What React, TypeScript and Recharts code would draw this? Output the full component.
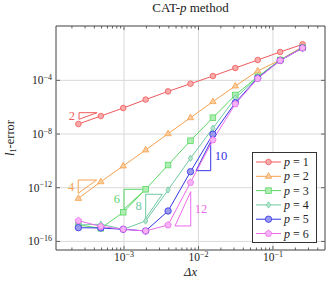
import React from 'react';
import { LineChart, Line, XAxis, YAxis, ReferenceLine, ReferenceArea, ReferenceDot, Legend } from 'recharts';

// grid spacing 1/4096 ... 1/4
const dx = [0.000244140625, 0.00048828125, 0.0009765625, 0.001953125, 0.00390625, 0.0078125, 0.015625, 0.03125, 0.0625, 0.125, 0.25];

// l1 errors
const errP1 = [5.6e-8, 2.2e-7, 8.7e-7, 3.7e-6, 1.5e-5, 5.6e-5, 2.1e-4, 8.3e-4, 3.3e-3, 1.3e-2, 4.85e-2];
const errP2 = [1.6e-13, 2.8e-12, 4.2e-11, 6.5e-10, 1.06e-8, 1.65e-7, 2.6e-6, 3.8e-5, 5.0e-4, 3.3e-3, 3.2e-2];
const errP3 = [1.67e-15, 9.5e-16, 1.48e-14, 7.6e-13, 4.9e-11, 3.2e-9, 1.65e-7, 8.1e-6, 1.87e-4, 3.3e-3, 2.7e-2];
const errP4 = [1.67e-15, 1.9e-15, 8.0e-16, 3.3e-15, 6.8e-13, 1.56e-10, 2.7e-8, 4.8e-6, 1.63e-4, 3.2e-3, 2.7e-2];
const errP5 = [1.05e-15, 1.0e-15, 8.0e-16, 6.0e-16, 1.85e-14, 1.56e-11, 9.6e-9, 2.16e-6, 1.5e-4, 3.0e-3, 2.6e-2];
const errP6 = [3.5e-15, 1.3e-15, 8.0e-16, 6.0e-16, 1.67e-15, 2.45e-12, 3.6e-9, 1.73e-6, 1.37e-4, 3.0e-3, 2.6e-2];

// slope triangles (order labels and corner coordinates)
const slopeLabels = ['2', '4', '6', '8', '10', '12'];
const triX0 = [2.49e-4, 2.43e-4, 1.0e-3, 1.956e-3, 9.27e-3, 4.84e-3];
const triX1 = [4.35e-4, 4.3e-4, 1.956e-3, 3.27e-3, 1.46e-2, 7.87e-3];
const triYHi = [3.89e-7, 3.76e-12, 7.64e-13, 3.24e-13, 2.69e-9, 5.06e-13];
const triYLo = [1.26e-7, 3.85e-13, 2.6e-14, 5.27e-15, 1.86e-11, 1.41e-15];
const triSide = ['left', 'left', 'left', 'left', 'right', 'right'];

const xTicks = [1e-3, 1e-2, 1e-1];
const xMinorTicks = [
  2e-4, 3e-4, 4e-4, 5e-4, 6e-4, 7e-4, 8e-4, 9e-4,
  2e-3, 3e-3, 4e-3, 5e-3, 6e-3, 7e-3, 8e-3, 9e-3,
  2e-2, 3e-2, 4e-2, 5e-2, 6e-2, 7e-2, 8e-2, 9e-2,
  2e-1, 3e-1, 4e-1,
];
const yTicks = [1e-16, 1e-12, 1e-8, 1e-4];
const xDomain = [1.222e-4, 0.5];
const yDomain = [2.29e-17, 1.12];

const series = [
  { key: 'p1', label: '1', color: '#f05a5c', fill: '#f8a9aa', shape: 'circleSmall' },
  { key: 'p2', label: '2', color: '#f5a14e', fill: '#fbcc9c', shape: 'triangle' },
  { key: 'p3', label: '3', color: '#5bd866', fill: '#aeeeb2', shape: 'square' },
  { key: 'p4', label: '4', color: '#6ec9a2', fill: '#b6e6d0', shape: 'diamond' },
  { key: 'p5', label: '5', color: '#3434e4', fill: '#9a9af0', shape: 'circle' },
  { key: 'p6', label: '6', color: '#ec6aec', fill: '#f6b4f6', shape: 'pentagon' },
];
const errs = [errP1, errP2, errP3, errP4, errP5, errP6];

const data = dx.map((x, i) => {
  const row: any = { x };
  series.forEach((s, k) => { row[s.key] = errs[k][i]; });
  return row;
});

const triangles = slopeLabels.map((_, i) =>
  triSide[i] === 'left'
    ? [
        { x: triX0[i], y: triYHi[i] },
        { x: triX1[i], y: triYHi[i] },
        { x: triX0[i], y: triYLo[i] },
        { x: triX0[i], y: triYHi[i] },
      ]
    : [
        { x: triX0[i], y: triYLo[i] },
        { x: triX1[i], y: triYLo[i] },
        { x: triX1[i], y: triYHi[i] },
        { x: triX0[i], y: triYLo[i] },
      ]
);

const FONT = '"Liberation Serif", "DejaVu Serif", serif';
const AXIS = '#404040';
const PLOT_TOP = 26;
const PLOT_RIGHT = 325;

const marker = (shape: string, cx: number, cy: number, stroke: string, fill: string) => {
  const common = { stroke, fill, strokeWidth: 0.8 };
  switch (shape) {
    case 'circleSmall':
      return <circle cx={cx} cy={cy} r={2.8} {...common} />;
    case 'circle':
      return <circle cx={cx} cy={cy} r={3.2} {...common} />;
    case 'triangle':
      return <polygon points={`${cx},${cy - 3.6} ${cx - 3.2},${cy + 2} ${cx + 3.2},${cy + 2}`} {...common} />;
    case 'square':
      return <rect x={cx - 2.8} y={cy - 2.8} width={5.6} height={5.6} {...common} />;
    case 'diamond':
      return <polygon points={`${cx},${cy - 3.2} ${cx + 2.2},${cy} ${cx},${cy + 3.2} ${cx - 2.2},${cy}`} {...common} />;
    default: {
      const pts = [0, 1, 2, 3, 4]
        .map((k) => {
          const a = -Math.PI / 2 + (k * 2 * Math.PI) / 5;
          return `${cx + 3.4 * Math.cos(a)},${cy + 3.4 * Math.sin(a)}`;
        })
        .join(' ');
      return <polygon points={pts} {...common} />;
    }
  }
};

const XTick = (props: any) => {
  const { x, y, payload } = props;
  const v = payload.value;
  const major = xTicks.includes(v);
  const len = major ? 4 : 2.5;
  const exp = Math.round(Math.log10(v));
  return (
    <g>
      <line x1={x} x2={x} y1={y} y2={y - len} stroke={AXIS} strokeWidth={0.8} />
      <line x1={x} x2={x} y1={PLOT_TOP} y2={PLOT_TOP + len} stroke={AXIS} strokeWidth={0.8} />
      {major && (
        <text x={x} y={y + 11} textAnchor="middle" fontFamily={FONT} fontSize={11.5} fill="#222">
          10<tspan dy={-4.5} fontSize={8}>{'\u2212' + Math.abs(exp)}</tspan>
        </text>
      )}
    </g>
  );
};

const YTick = (props: any) => {
  const { x, y, payload } = props;
  const exp = Math.round(Math.log10(payload.value));
  return (
    <g>
      <line x1={x} x2={x + 4} y1={y} y2={y} stroke={AXIS} strokeWidth={0.8} />
      <line x1={PLOT_RIGHT} x2={PLOT_RIGHT - 4} y1={y} y2={y} stroke={AXIS} strokeWidth={0.8} />
      <text x={x - 4} y={y + 4} textAnchor="end" fontFamily={FONT} fontSize={11.5} fill="#222">
        10<tspan dy={-4.5} fontSize={8}>{'\u2212' + Math.abs(exp)}</tspan>
      </text>
    </g>
  );
};

const LegendBox = () => (
  <div style={{ width: 65, height: 91, border: '1px solid #333', background: '#fff', boxSizing: 'border-box' }}>
    <svg width={63} height={89} style={{ display: 'block' }}>
      {series.map((s, i) => {
        const cy = 9 + i * 14.3;
        return (
          <g key={s.key}>
            <line x1={3} x2={28} y1={cy} y2={cy} stroke={s.color} strokeWidth={1} />
            {marker(s.shape, 15.5, cy, s.color, s.fill)}
            <text x={31} y={cy + 4} fontFamily={FONT} fontSize={12} fill="#222">
              <tspan fontStyle="italic">p</tspan> = {s.label}
            </text>
          </g>
        );
      })}
    </svg>
  </div>
);

export default function App() {
  return (
    <div style={{ position: 'absolute', left: 0, top: 0, width: 326, height: 284, background: '#fff' }}>
      <div
        style={{
          position: 'absolute', left: 56, top: 0, width: 269, textAlign: 'center',
          fontFamily: FONT, fontSize: 13, lineHeight: '15px', color: '#222',
        }}
      >
        CAT-<i>p</i> method
      </div>
      <LineChart width={326} height={284} data={data} margin={{ top: PLOT_TOP, right: 1, left: 0, bottom: 0 }}>
        <XAxis
          dataKey="x"
          type="number"
          scale="log"
          domain={xDomain}
          allowDataOverflow
          ticks={[...xTicks, ...xMinorTicks]}
          interval={0}
          tick={<XTick />}
          tickLine={false}
          axisLine={false}
          tickSize={0}
          tickMargin={0}
          height={34}
          label={(p: any) => {
            const vb = p.viewBox;
            return (
              <text x={vb.x + vb.width / 2} y={vb.y + 25.5} textAnchor="middle" fontFamily={FONT} fontSize={12.5} fontStyle="italic" fill="#222">
                Δx
              </text>
            );
          }}
        />
        <YAxis
          type="number"
          scale="log"
          domain={yDomain}
          allowDataOverflow
          ticks={yTicks}
          interval={0}
          tick={<YTick />}
          tickLine={false}
          axisLine={false}
          tickSize={0}
          tickMargin={0}
          width={56}
          label={(p: any) => {
            const vb = p.viewBox;
            return (
              <text transform={`translate(14, ${vb.y + vb.height / 2}) rotate(-90)`} textAnchor="middle" fontFamily={FONT} fontSize={12.5} fill="#222">
                <tspan fontStyle="italic">l</tspan>
                <tspan fontSize={8} dy={2}>1</tspan>
                <tspan dy={-2}>-error</tspan>
              </text>
            );
          }}
        />
        {xTicks.map((t) => (
          <ReferenceLine key={'gx' + t} x={t} stroke="#d9d9d9" strokeWidth={1} />
        ))}
        {yTicks.map((t) => (
          <ReferenceLine key={'gy' + t} y={t} stroke="#d9d9d9" strokeWidth={1} />
        ))}
        {triangles.map((tri, i) => (
          <Line
            key={'tri' + i}
            data={tri}
            dataKey="y"
            stroke={series[i].color}
            strokeWidth={1}
            dot={false}
            activeDot={false}
            legendType="none"
            isAnimationActive={false}
          />
        ))}
        {slopeLabels.map((lab, i) => (
          <ReferenceDot
            key={'lab' + i}
            x={triSide[i] === 'left' ? triX0[i] : triX1[i]}
            y={Math.sqrt(triYHi[i] * triYLo[i])}
            r={0}
            shape={(p: any) => (
              <text
                x={triSide[i] === 'left' ? p.cx - 4 : p.cx + 4}
                y={p.cy + 4}
                textAnchor={triSide[i] === 'left' ? 'end' : 'start'}
                fontFamily={FONT}
                fontSize={12.5}
                fill={series[i].color}
              >
                {lab}
              </text>
            )}
          />
        ))}
        {series.map((s) => (
          <Line
            key={s.key}
            dataKey={s.key}
            stroke={s.color}
            strokeWidth={1}
            isAnimationActive={false}
            activeDot={false}
            dot={(p: any) => <g key={s.key + p.index}>{marker(s.shape, p.cx, p.cy, s.color, s.fill)}</g>}
          />
        ))}
        <ReferenceArea x1={xDomain[0]} x2={xDomain[1]} y1={yDomain[0]} y2={yDomain[1]} fill="none" stroke={AXIS} strokeWidth={1} />
        <Legend
          layout="vertical"
          align="center"
          verticalAlign="middle"
          wrapperStyle={{ left: 252, top: 152, width: 65, height: 91 }}
          content={() => <LegendBox />}
        />
      </LineChart>
    </div>
  );
}
